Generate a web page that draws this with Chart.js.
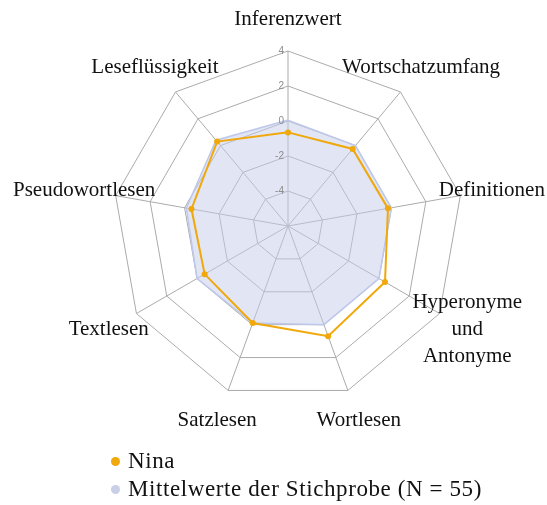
<!DOCTYPE html>
<html>
<head>
<meta charset="utf-8">
<script src="https://cdn.jsdelivr.net/npm/chart.js@4/dist/chart.umd.min.js"></script>
<style>
  html, body { margin: 0; padding: 0; background: #fff; }
  #wrap { position: relative; width: 547px; height: 505px; }
  #legend { position: absolute; left: 111px; top: 447px; font-family: "Liberation Serif", "Times New Roman", serif; font-size: 23px; letter-spacing: 0.6px; color: #111; }
  #legend div { height: 28px; line-height: 28px; white-space: nowrap; }
  #legend span.dot { display: inline-block; width: 9px; height: 9px; border-radius: 50%; margin-right: 8px; vertical-align: 2px; }
</style>
</head>
<body>
<div id="wrap">
  <canvas id="radarChart" width="547" height="505"></canvas>
  <div id="legend"></div>
</div>
<script>
// Achsen (Kategorien)
const categories = [
  "Inferenzwert",
  "Wortschatzumfang",
  "Definitionen",
  ["Hyperonyme", "und", "Antonyme"],
  "Wortlesen",
  "Satzlesen",
  "Textlesen",
  "Pseudowortlesen",
  "Leseflüssigkeit"
];

// Werte
const ninaValues = [-0.65, -0.25, -0.2, 0.4, 0.7, -0.1, -0.5, -0.4, 0.3];
const meanValues = [0.05, 0, 0, 0, 0, -0.1, 0, -0.1, 0.4];

// Skala
const scaleMin = -6;
const scaleMax = 4;
const scaleStep = 2;

const seriesNames = ["Nina", "Mittelwerte der Stichprobe (N = 55)"];
const ninaColor = "#f0a80a";
const meanDotColor = "#c8cfe6";

// Beschriftungen rund um das Netz (wie in Excel, mittig auf der Achse)
const labelPlugin = {
  id: "axisLabels",
  afterDraw(chart) {
    const scale = chart.scales.r;
    const ctx = chart.ctx;
    ctx.save();
    ctx.fillStyle = "#111";
    ctx.font = "21px 'Liberation Serif', 'Times New Roman', serif";
    ctx.textAlign = "center";
    ctx.textBaseline = "middle";
    categories.forEach((label, i) => {
      const lines = Array.isArray(label) ? label : [label];
      const pos = scale.getPointPosition(i, scale.drawingArea + 32);
      const lh = 27;
      lines.forEach((line, j) => {
        ctx.fillText(line, pos.x, pos.y + (j - (lines.length - 1) / 2) * lh);
      });
    });

    // Ticklabels links neben der senkrechten Achse
    ctx.fillStyle = "#8c8c8c";
    ctx.font = "10px 'Liberation Sans', Arial, sans-serif";
    ctx.textAlign = "right";
    scale.ticks.forEach(t => {
      if (t.value === scaleMin) return;
      const d = scale.getDistanceFromCenterForValue(t.value);
      ctx.fillText(String(t.value), scale.xCenter - 4, scale.yCenter - d);
    });
    ctx.restore();
  }
};

const ctx = document.getElementById("radarChart").getContext("2d");
const chart = new Chart(ctx, {
  type: "radar",
  data: {
    labels: categories,
    datasets: [
      {
        label: seriesNames[0],
        data: ninaValues,
        borderColor: ninaColor,
        backgroundColor: ninaColor,
        pointBackgroundColor: ninaColor,
        pointBorderWidth: 0,
        pointRadius: 3,
        borderWidth: 2,
        fill: false
      },
      {
        label: seriesNames[1],
        data: meanValues,
        borderColor: "rgba(190, 200, 235, 1)",
        backgroundColor: "rgba(196, 204, 234, 0.5)",
        pointRadius: 0,
        borderWidth: 1.5,
        fill: "start"
      }
    ]
  },
  options: {
    responsive: false,
    animation: false,
    layout: {
      padding: { left: 113, right: 83, top: 51, bottom: 104 }
    },
    plugins: {
      legend: { display: false },
      tooltip: { enabled: false }
    },
    elements: { line: { tension: 0 } },
    scales: {
      r: {
        min: scaleMin,
        max: scaleMax,
        ticks: { stepSize: scaleStep, display: false },
        grid: { color: "#ababab", lineWidth: 1 },
        angleLines: { color: "#ababab", lineWidth: 1 },
        pointLabels: { display: false }
      }
    }
  },
  plugins: [labelPlugin]
});

// Legende untereinander
const legend = document.getElementById("legend");
[ninaColor, meanDotColor].forEach((c, i) => {
  const row = document.createElement("div");
  const dot = document.createElement("span");
  dot.className = "dot";
  dot.style.background = c;
  row.appendChild(dot);
  row.appendChild(document.createTextNode(seriesNames[i]));
  legend.appendChild(row);
});
</script>
</body>
</html>
